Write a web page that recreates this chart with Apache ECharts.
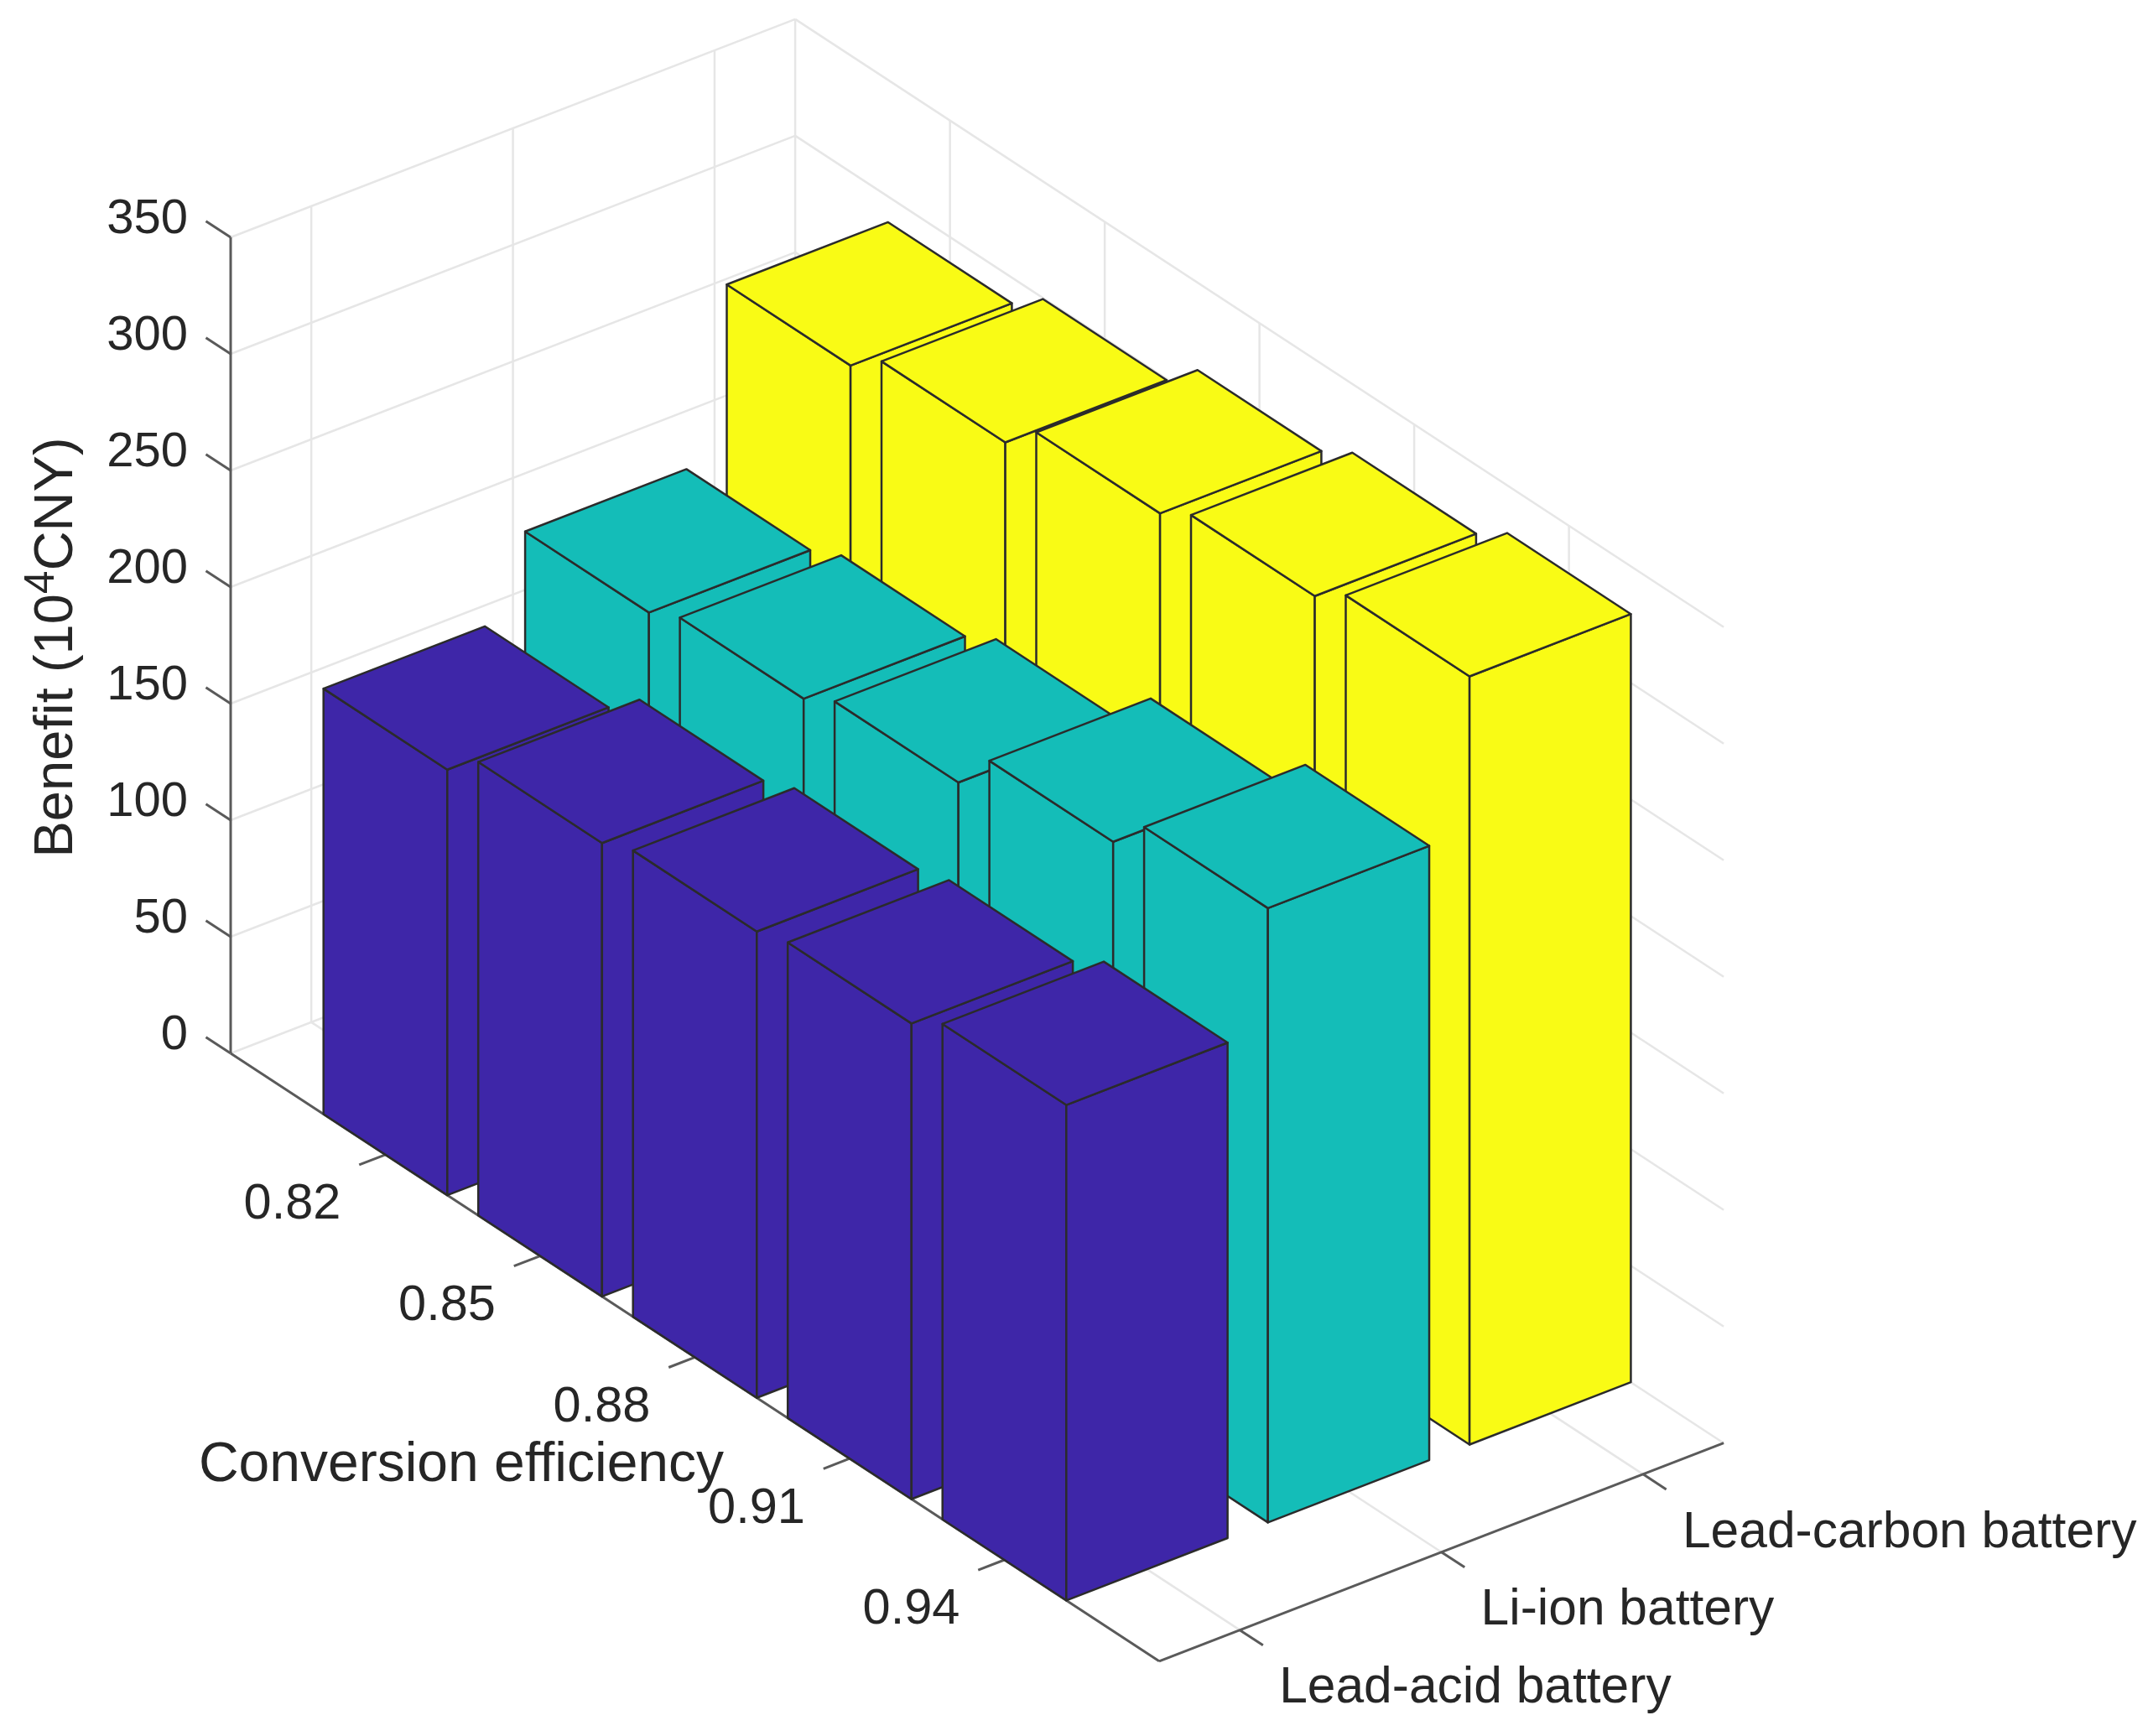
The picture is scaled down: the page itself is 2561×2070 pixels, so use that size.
<!DOCTYPE html>
<html>
<head>
<meta charset="utf-8">
<style>html,body{margin:0;padding:0;background:#fff}#chart{width:2561px;height:2070px}</style>
<script src="https://cdn.jsdelivr.net/npm/echarts@6/dist/echarts.min.js"></script>
</head>
<body>
<div id="chart"></div>
<script>
const efficiencies = ['0.82', '0.85', '0.88', '0.91', '0.94'];
const batteries = ['Lead-acid battery', 'Li-ion battery', 'Lead-carbon battery'];
const benefitTicks = [0, 50, 100, 150, 200, 250, 300, 350];
const leadAcid = [182.5, 194.5, 200, 204, 212.5];
const liIon = [216.5, 223, 230.5, 248.5, 263.5];
const leadCarbon = [289, 299.5, 312.5, 320.5, 329.5];
const xTitle = 'Conversion efficiency';

// oblique view of the 3D box: plane position of (x, y, z)
const VIEW = {ox: 275, oy: 1256, xx: 184.5, xy: 120.8, yx: 240.4, yy: -92.9, zy: -2.78,
  xMin: 0, xMax: 6, yMin: 0.6, yMax: 3.4, zMax: 350, half: 0.4};
function plane(x, y, z) {
  return [VIEW.ox + x * VIEW.xx + (y - VIEW.yMin) * VIEW.yx,
          VIEW.oy + x * VIEW.xy + (y - VIEW.yMin) * VIEW.yy + z * VIEW.zy];
}
const AXIS = '#5a5a5a', GRID = '#e6e6e6', TEXT = '#262626', EDGE = '#2b2b2b';
const FONT = '"Liberation Sans", Arial, sans-serif';

function renderFrame(params, api) {
  const P = (x, y, z) => api.coord(plane(x, y, z));
  const kids = [];
  const seg = (a, b, color, w) => kids.push({type: 'line',
    shape: {x1: a[0], y1: a[1], x2: b[0], y2: b[1]},
    style: {stroke: color, lineWidth: w}, silent: true});
  const label = (pt, dx, dy, text, align, fs) => kids.push({type: 'text',
    style: {x: pt[0] + dx, y: pt[1] + dy, text, fill: TEXT, font: fs + 'px ' + FONT, align, verticalAlign: 'middle'}, silent: true});
  const {xMin, xMax, yMin, yMax, zMax} = VIEW;
  // gridlines
  benefitTicks.forEach(z => {
    seg(P(xMin, yMin, z), P(xMin, yMax, z), GRID, 2.5);
    seg(P(xMin, yMax, z), P(xMax, yMax, z), GRID, 2.5);
  });
  efficiencies.forEach((_, i) => {
    const x = i + 1;
    seg(P(x, yMin, 0), P(x, yMax, 0), GRID, 2.5);
    seg(P(x, yMax, 0), P(x, yMax, zMax), GRID, 2.5);
  });
  batteries.forEach((_, j) => {
    const y = j + 1;
    seg(P(xMin, y, 0), P(xMax, y, 0), GRID, 2.5);
    seg(P(xMin, y, 0), P(xMin, y, zMax), GRID, 2.5);
  });
  seg(P(xMin, yMax, 0), P(xMin, yMax, zMax), GRID, 2.5);
  // axes
  seg(P(xMin, yMin, 0), P(xMin, yMin, zMax), AXIS, 3);
  seg(P(xMin, yMin, 0), P(xMax, yMin, 0), AXIS, 3);
  seg(P(xMax, yMin, 0), P(xMax, yMax, 0), AXIS, 3);
  // ticks + labels
  benefitTicks.forEach(z => {
    const a = P(xMin, yMin, z);
    seg(a, P(xMin - 0.16, yMin, z), AXIS, 3);
    label(a, -51, -21, String(z), 'right', 58);
  });
  efficiencies.forEach((t, i) => {
    const a = P(i + 1, yMin, 0);
    seg(a, P(i + 1, yMin - 0.13, 0), AXIS, 3);
    label(a, -111, 60, t, 'center', 59.5);
  });
  batteries.forEach((t, j) => {
    const a = P(xMax, j + 1, 0);
    seg(a, P(xMax + 0.15, j + 1, 0), AXIS, 3);
    label(a, 47, 70, t, 'left', 60.5);
  });
  // axis titles
  const xt = api.coord([550, 1748]);
  kids.push({type: 'text', silent: true, style: {x: xt[0], y: xt[1], text: xTitle, fill: TEXT,
    font: '66px ' + FONT, align: 'center', verticalAlign: 'middle'}});
  const yt = api.coord([63, 772]);
  kids.push({type: 'text', silent: true, x: yt[0], y: yt[1], rotation: Math.PI / 2,
    style: {text: '{a|Benefit (10}{b|4}{a|CNY)}', align: 'center', verticalAlign: 'middle',
      rich: {
        a: {fontSize: 65, fontFamily: FONT, fill: TEXT, lineHeight: 75, verticalAlign: 'bottom', padding: [22, 0, 0, 0]},
        b: {fontSize: 50, fontFamily: FONT, fill: TEXT, lineHeight: 50, verticalAlign: 'top'}
      }}});
  return {type: 'group', children: kids};
}

function barRenderer(rowIndex, color) {
  return function (params, api) {
    const x = api.value(0) + 1, y = rowIndex + 1, v = api.value(1), h = VIEW.half;
    const x0 = x - h, x1 = x + h, y0 = y - h, y1 = y + h;
    const P = (a, b, c) => api.coord(plane(a, b, c));
    const face = pts => ({type: 'polygon', shape: {points: pts}, silent: true,
      style: {fill: color, stroke: EDGE, lineWidth: 2.5, lineJoin: 'round'}});
    return {type: 'group', children: [
      face([P(x0, y0, 0), P(x1, y0, 0), P(x1, y0, v), P(x0, y0, v)]),
      face([P(x1, y0, 0), P(x1, y1, 0), P(x1, y1, v), P(x1, y0, v)]),
      face([P(x0, y0, v), P(x1, y0, v), P(x1, y1, v), P(x0, y1, v)])
    ]};
  };
}
function barSeries(name, rowIndex, values, color) {
  return {type: 'custom', name, coordinateSystem: 'cartesian2d', clip: false, animation: false,
    renderItem: barRenderer(rowIndex, color), silent: true,
    encode: {x: 0, y: 1}, data: values.map((v, i) => [i, v])};
}

const chart = echarts.init(document.getElementById('chart'), null, {renderer: 'canvas'});
chart.setOption({
  backgroundColor: '#ffffff',
  animation: false,
  tooltip: {show: false},
  grid: {left: 0, right: 0, top: 0, bottom: 0},
  xAxis: {type: 'value', min: 0, max: 2561, show: false},
  yAxis: {type: 'value', min: 0, max: 2070, inverse: true, show: false},
  series: [
    {type: 'custom', name: 'frame', clip: false, animation: false, silent: true, renderItem: renderFrame, data: [[0, 0]]},
    barSeries(batteries[2], 2, leadCarbon, '#F9FB15'),
    barSeries(batteries[1], 1, liIon, '#14BDB8'),
    barSeries(batteries[0], 0, leadAcid, '#3E26A8')
  ]
});
</script>
</body>
</html>
